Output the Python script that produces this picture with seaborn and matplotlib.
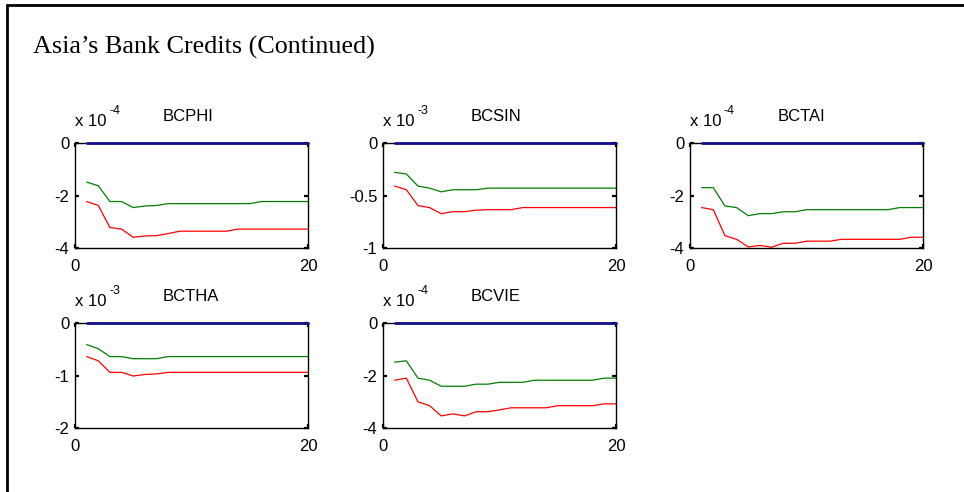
import numpy as np
import pandas as pd
import matplotlib
matplotlib.use("Agg")
import matplotlib.pyplot as plt
import seaborn as sns
from matplotlib.lines import Line2D

sns.set_theme(style="white")
plt.rcParams['font.family'] = ['Liberation Sans', 'DejaVu Sans']

# ---------------- data (values in units of the panel's 10^k scale) ----------------
horizon = list(range(1, 21))
titles = ["BCPHI", "BCSIN", "BCTAI", "BCTHA", "BCVIE"]
exponents = ["-4", "-3", "-4", "-3", "-4"]
ylims = [(-4, 0), (-1, 0), (-4, 0), (-2, 0), (-4, 0)]
yticks = [[-4, -2, 0], [-1, -0.5, 0], [-4, -2, 0], [-2, -1, 0], [-4, -2, 0]]
yticklabels = [["-4", "-2", "0"], ["-1", "-0.5", "0"], ["-4", "-2", "0"],
               ["-2", "-1", "0"], ["-4", "-2", "0"]]

center = [0.0] * 20

bcphi_upper = [-1.49, -1.63, -2.23, -2.23, -2.46, -2.40, -2.38, -2.31, -2.31, -2.31,
               -2.31, -2.31, -2.31, -2.31, -2.31, -2.23, -2.23, -2.23, -2.23, -2.23]
bcphi_lower = [-2.23, -2.38, -3.22, -3.28, -3.59, -3.54, -3.53, -3.45, -3.36, -3.36,
               -3.36, -3.36, -3.36, -3.28, -3.28, -3.28, -3.28, -3.28, -3.28, -3.28]

bcsin_upper = [-0.28, -0.295, -0.41, -0.43, -0.465, -0.445, -0.445, -0.445, -0.43, -0.43,
               -0.43, -0.43, -0.43, -0.43, -0.43, -0.43, -0.43, -0.43, -0.43, -0.43]
bcsin_lower = [-0.41, -0.445, -0.596, -0.615, -0.673, -0.654, -0.654, -0.64, -0.635, -0.635,
               -0.635, -0.615, -0.615, -0.615, -0.615, -0.615, -0.615, -0.615, -0.615, -0.615]

bctai_upper = [-1.70, -1.70, -2.40, -2.46, -2.77, -2.69, -2.69, -2.62, -2.62, -2.54,
               -2.54, -2.54, -2.54, -2.54, -2.54, -2.54, -2.54, -2.46, -2.46, -2.46]
bctai_lower = [-2.46, -2.54, -3.53, -3.67, -3.96, -3.90, -3.97, -3.82, -3.82, -3.74,
               -3.74, -3.74, -3.67, -3.67, -3.67, -3.67, -3.67, -3.67, -3.59, -3.59]

bctha_upper = [-0.41, -0.49, -0.64, -0.64, -0.68, -0.68, -0.68, -0.64, -0.64, -0.64,
               -0.64, -0.64, -0.64, -0.64, -0.64, -0.64, -0.64, -0.64, -0.64, -0.64]
bctha_lower = [-0.64, -0.72, -0.94, -0.94, -1.01, -0.98, -0.97, -0.94, -0.94, -0.94,
               -0.94, -0.94, -0.94, -0.94, -0.94, -0.94, -0.94, -0.94, -0.94, -0.94]

bcvie_upper = [-1.49, -1.44, -2.10, -2.18, -2.41, -2.41, -2.41, -2.33, -2.33, -2.26,
               -2.26, -2.26, -2.18, -2.18, -2.18, -2.18, -2.18, -2.18, -2.10, -2.10]
bcvie_lower = [-2.18, -2.10, -3.00, -3.15, -3.54, -3.46, -3.54, -3.38, -3.38, -3.31,
               -3.23, -3.23, -3.23, -3.23, -3.15, -3.15, -3.15, -3.15, -3.08, -3.08]

uppers = [bcphi_upper, bcsin_upper, bctai_upper, bctha_upper, bcvie_upper]
lowers = [bcphi_lower, bcsin_lower, bctai_lower, bctha_lower, bcvie_lower]

# ---------------- figure ----------------
W, H = 964, 492
fig = plt.figure(figsize=(W / 100, H / 100), dpi=100)
fig.patch.set_facecolor("white")

# frame (left and top edges visible)
fig.add_artist(Line2D([6.5 / W, 6.5 / W], [0, 1 - 5 / H], transform=fig.transFigure,
                      color="black", lw=2.0))
fig.add_artist(Line2D([6.5 / W, 1], [1 - 5 / H, 1 - 5 / H], transform=fig.transFigure,
                      color="black", lw=2.0))

fig.text(33 / W, 1 - 47 / H, "Asia\u2019s Bank Credits (Continued)",
         family=["Liberation Serif", "DejaVu Serif"], fontsize=18.8,
         ha="left", va="center", color="black")

lefts = [75, 383, 690, 75, 383]
tops = [143, 143, 143, 323, 323]
aw, ah = 233, 105

for i in range(5):
    ax = fig.add_axes([lefts[i] / W, 1 - (tops[i] + ah) / H, aw / W, ah / H])
    df = pd.DataFrame({
        "h": horizon * 3,
        "v": center + uppers[i] + lowers[i],
        "s": ["c"] * 20 + ["u"] * 20 + ["l"] * 20,
    })
    sns.lineplot(data=df[df.s == "u"], x="h", y="v", ax=ax, color="#008000",
                 lw=0.9, legend=False)
    sns.lineplot(data=df[df.s == "l"], x="h", y="v", ax=ax, color="#ff0000",
                 lw=0.9, legend=False)
    sns.lineplot(data=df[df.s == "c"], x="h", y="v", ax=ax, color="#10108c",
                 lw=2.0, legend=False, zorder=5)
    for ln in ax.lines:
        ln.set_clip_on(False)
    ax.set_xlim(0, 20)
    ax.set_ylim(*ylims[i])
    ax.set_xticks([0, 20])
    ax.set_xticklabels(["0", "20"])
    ax.set_yticks(yticks[i])
    ax.set_yticklabels(yticklabels[i])
    ax.set_xlabel("")
    ax.set_ylabel("")
    ax.set_facecolor("white")
    for sp in ax.spines.values():
        sp.set_visible(True)
        sp.set_color("black")
        sp.set_linewidth(1.0)
    ax.tick_params(axis="both", direction="in", length=3, width=1.6, color="black",
                   labelsize=12, labelcolor="black", top=True, right=True,
                   left=True, bottom=True)
    ax.tick_params(axis="x", pad=8)
    ax.tick_params(axis="y", pad=4)
    ax.grid(False)

    ax.text(0.0, 1.20, "x 10", transform=ax.transAxes, fontsize=12,
            ha="left", va="center", color="black")
    ax.text(34 / aw, 1.30, exponents[i], transform=ax.transAxes, fontsize=9,
            ha="left", va="center", color="black")
    ax.text(88 / aw, 1.25, titles[i], transform=ax.transAxes, fontsize=12,
            ha="left", va="center", color="black")

fig.savefig("out.png", dpi=100, facecolor="white")
